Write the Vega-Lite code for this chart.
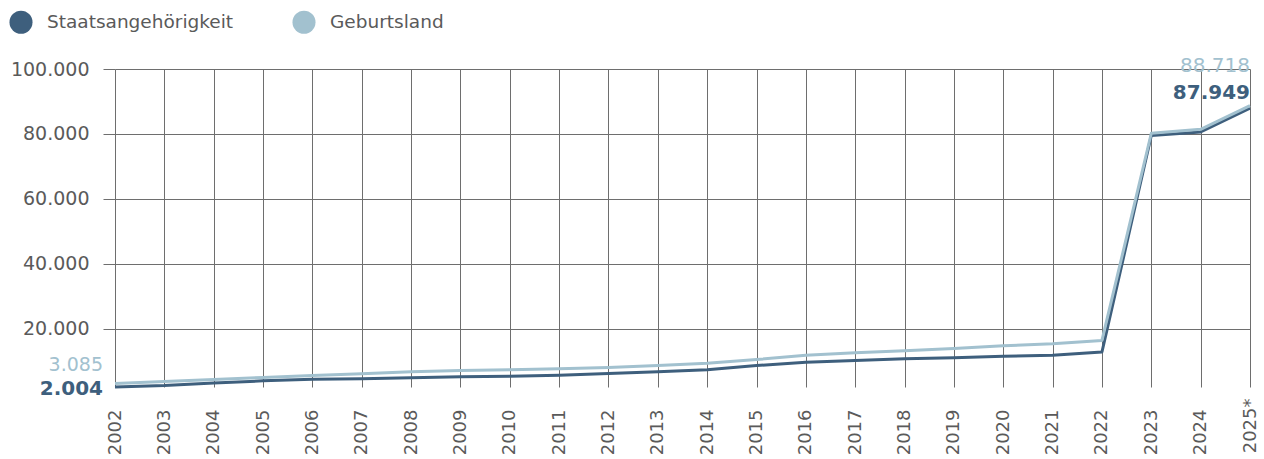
{
  "$schema": "https://vega.github.io/schema/vega-lite/v6.json",
  "width": 1135,
  "height": 318,
  "autosize": {"type": "none"},
  "padding": {"left": 115, "top": 69, "right": 14, "bottom": 72},
  "background": "white",
  "config": {
    "font": "DejaVu Sans",
    "view": {"stroke": null}
  },
  "datasets": {
    "lines": [
      {"year": 2002, "value": 2004, "series": "Staatsangehörigkeit"},
      {"year": 2003, "value": 2450, "series": "Staatsangehörigkeit"},
      {"year": 2004, "value": 3250, "series": "Staatsangehörigkeit"},
      {"year": 2005, "value": 3900, "series": "Staatsangehörigkeit"},
      {"year": 2006, "value": 4400, "series": "Staatsangehörigkeit"},
      {"year": 2007, "value": 4550, "series": "Staatsangehörigkeit"},
      {"year": 2008, "value": 4850, "series": "Staatsangehörigkeit"},
      {"year": 2009, "value": 5140, "series": "Staatsangehörigkeit"},
      {"year": 2010, "value": 5330, "series": "Staatsangehörigkeit"},
      {"year": 2011, "value": 5640, "series": "Staatsangehörigkeit"},
      {"year": 2012, "value": 6160, "series": "Staatsangehörigkeit"},
      {"year": 2013, "value": 6680, "series": "Staatsangehörigkeit"},
      {"year": 2014, "value": 7300, "series": "Staatsangehörigkeit"},
      {"year": 2015, "value": 8620, "series": "Staatsangehörigkeit"},
      {"year": 2016, "value": 9650, "series": "Staatsangehörigkeit"},
      {"year": 2017, "value": 10160, "series": "Staatsangehörigkeit"},
      {"year": 2018, "value": 10680, "series": "Staatsangehörigkeit"},
      {"year": 2019, "value": 10990, "series": "Staatsangehörigkeit"},
      {"year": 2020, "value": 11480, "series": "Staatsangehörigkeit"},
      {"year": 2021, "value": 11790, "series": "Staatsangehörigkeit"},
      {"year": 2022, "value": 12800, "series": "Staatsangehörigkeit"},
      {"year": 2023, "value": 79500, "series": "Staatsangehörigkeit"},
      {"year": 2024, "value": 80600, "series": "Staatsangehörigkeit"},
      {"year": 2025, "value": 87949, "series": "Staatsangehörigkeit"},
      {"year": 2002, "value": 3085, "series": "Geburtsland"},
      {"year": 2003, "value": 3700, "series": "Geburtsland"},
      {"year": 2004, "value": 4310, "series": "Geburtsland"},
      {"year": 2005, "value": 4930, "series": "Geburtsland"},
      {"year": 2006, "value": 5540, "series": "Geburtsland"},
      {"year": 2007, "value": 6060, "series": "Geburtsland"},
      {"year": 2008, "value": 6680, "series": "Geburtsland"},
      {"year": 2009, "value": 7080, "series": "Geburtsland"},
      {"year": 2010, "value": 7300, "series": "Geburtsland"},
      {"year": 2011, "value": 7600, "series": "Geburtsland"},
      {"year": 2012, "value": 8000, "series": "Geburtsland"},
      {"year": 2013, "value": 8620, "series": "Geburtsland"},
      {"year": 2014, "value": 9330, "series": "Geburtsland"},
      {"year": 2015, "value": 10460, "series": "Geburtsland"},
      {"year": 2016, "value": 11800, "series": "Geburtsland"},
      {"year": 2017, "value": 12530, "series": "Geburtsland"},
      {"year": 2018, "value": 13140, "series": "Geburtsland"},
      {"year": 2019, "value": 13850, "series": "Geburtsland"},
      {"year": 2020, "value": 14680, "series": "Geburtsland"},
      {"year": 2021, "value": 15300, "series": "Geburtsland"},
      {"year": 2022, "value": 16350, "series": "Geburtsland"},
      {"year": 2023, "value": 80200, "series": "Geburtsland"},
      {"year": 2024, "value": 81400, "series": "Geburtsland"},
      {"year": 2025, "value": 88718, "series": "Geburtsland"}
    ],
    "labels": [
      {"year": 2002, "value": 3085, "series": "Geburtsland", "label": "3.085"},
      {"year": 2002, "value": 2004, "series": "Staatsangehörigkeit", "label": "2.004"},
      {"year": 2025, "value": 88718, "series": "Geburtsland", "label": "88.718"},
      {"year": 2025, "value": 87949, "series": "Staatsangehörigkeit", "label": "87.949"}
    ]
  },
  "encoding": {
    "x": {
      "field": "year", "type": "quantitative",
      "scale": {"domain": [2002, 2025], "nice": false, "zero": false},
      "axis": {
        "title": null, "domain": false,
        "values": [2002,2003,2004,2005,2006,2007,2008,2009,2010,2011,2012,2013,2014,2015,2016,2017,2018,2019,2020,2021,2022,2023,2024,2025],
        "labelExpr": "datum.value == 2025 ? '2025*' : '' + datum.value",
        "labelFont": "DejaVu Sans", "labelFontSize": 18, "labelColor": "#5a5a5a",
        "labelAngle": -90, "labelAlign": "right", "labelBaseline": "middle",
        "ticks": false, "grid": true,
        "labelPadding": {"condition": {"test": "datum.value == 2025", "value": 11}, "value": 22},
        "gridColor": "#6e6e6e", "gridWidth": 1, "gridOpacity": 1
      }
    },
    "y": {
      "field": "value", "type": "quantitative",
      "scale": {"domain": [2004, 100000], "nice": false, "zero": false},
      "axis": {
        "title": null, "domain": false,
        "values": [20000, 40000, 60000, 80000, 100000],
        "labelExpr": "replace(format(datum.value, ','), ',', '.')",
        "labelFont": "DejaVu Sans", "labelFontSize": 19, "labelColor": "#5a5a5a",
        "ticks": true, "tickSize": 12, "tickColor": "#6e6e6e", "tickWidth": 1, "labelPadding": 14, "grid": true,
        "gridColor": "#6e6e6e", "gridWidth": 1, "gridOpacity": 1
      }
    }
  },
  "layer": [
    {
      "data": {"name": "lines"},
      "mark": {"type": "line", "strokeWidth": 3, "strokeJoin": "round"},
      "encoding": {
        "color": {
          "field": "series", "type": "nominal",
          "scale": {"domain": ["Staatsangehörigkeit", "Geburtsland"], "range": ["#3e5f7d", "#a2c1cf"]},
          "legend": {
            "title": null, "orient": "none", "direction": "horizontal",
            "legendX": -106, "legendY": -59,
            "symbolType": "circle", "symbolSize": 530,
            "labelFont": "DejaVu Sans", "labelFontSize": 18.5, "labelColor": "#5a5a5a", "labelLimit": 400,
            "labelOffset": 14, "columnPadding": 58,
            "encode": {
              "symbols": {
                "update": {
                  "fill": {"scale": "color", "field": "value"},
                  "fillOpacity": {"value": 1},
                  "strokeWidth": {"value": 0}
                }
              }
            }
          }
        }
      }
    },
    {
      "data": {"name": "labels"},
      "transform": [{"filter": "datum.label == '3.085'"}],
      "mark": {"type": "text", "align": "right", "baseline": "middle", "dx": -12, "dy": -18, "fontSize": 19, "font": "DejaVu Sans", "color": "#a2c1cf"},
      "encoding": {"text": {"field": "label"}}
    },
    {
      "data": {"name": "labels"},
      "transform": [{"filter": "datum.label == '2.004'"}],
      "mark": {"type": "text", "align": "right", "baseline": "middle", "dx": -12, "dy": 2, "fontSize": 20, "fontWeight": "bold", "font": "DejaVu Sans", "color": "#3e5f7d"},
      "encoding": {"text": {"field": "label"}}
    },
    {
      "data": {"name": "labels"},
      "transform": [{"filter": "datum.label == '88.718'"}],
      "mark": {"type": "text", "align": "right", "baseline": "middle", "dx": 0, "dy": -40, "fontSize": 20, "font": "DejaVu Sans", "color": "#a2c1cf"},
      "encoding": {"text": {"field": "label"}}
    },
    {
      "data": {"name": "labels"},
      "transform": [{"filter": "datum.label == '87.949'"}],
      "mark": {"type": "text", "align": "right", "baseline": "middle", "dx": 0, "dy": -15, "fontSize": 20, "fontWeight": "bold", "font": "DejaVu Sans", "color": "#3e5f7d"},
      "encoding": {"text": {"field": "label"}}
    }
  ]
}
